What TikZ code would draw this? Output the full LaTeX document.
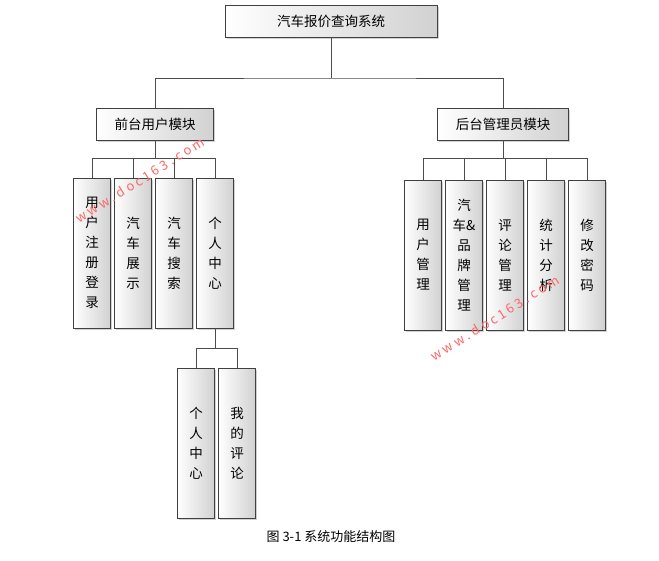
\documentclass[tikz,border=0pt]{standalone}
\usepackage{fontspec}
\setmainfont{Noto Sans CJK SC}
\usetikzlibrary{shadows}
\tikzset{
  modbox/.style={draw=black!75, left color=white, right color=black!18, drop shadow={shadow xshift=1.5pt,shadow yshift=-1.5pt,fill=black!35},
    font=\fontsize{13.5}{15}\selectfont, inner sep=0pt},
  colbox/.style={modbox, minimum width=37pt, minimum height=150pt, align=center,
    font=\fontsize{13.5}{20}\selectfont},
  link/.style={draw=black!70, line width=0.6pt}
}
\begin{document}
\begin{tikzpicture}[x=1pt,y=-1pt]
  \useasboundingbox[fill=white] (0,0) rectangle (659,560);

  % Ebene 1 und 2
  \node[modbox, minimum width=212pt, minimum height=32pt] (sys) at (331,21) {汽车报价查询系统};
  \node[modbox, minimum width=117pt, minimum height=32pt] (front) at (155,124) {前台用户模块};
  \node[modbox, minimum width=131pt, minimum height=32pt] (back) at (503,124) {后台管理员模块};

  % Vorderseite
  \node[colbox] (reg) at (92,253) {用\\户\\注\\册\\登\\录};
  \node[colbox] (show) at (133,253) {汽\\车\\展\\示};
  \node[colbox] (search) at (174,253) {汽\\车\\搜\\索};
  \node[colbox] (center) at (215,253) {个\\人\\中\\心};
  \node[colbox] (mycenter) at (196,443) {个\\人\\中\\心};
  \node[colbox] (mycomment) at (237,443) {我\\的\\评\\论};

  % Rückseite
  \node[colbox] (user) at (423,255) {用\\户\\管\\理};
  \node[colbox] (brand) at (464,255) {汽\\车\&\\品\\牌\\管\\理};
  \node[colbox] (comment) at (505,255) {评\\论\\管\\理};
  \node[colbox] (stat) at (546,255) {统\\计\\分\\析};
  \node[colbox] (pwd) at (587,255) {修\\改\\密\\码};

  % Verbindungen
  \coordinate (b1) at (331,78);
  \coordinate (b2) at (155,158);
  \coordinate (b3) at (503,158);
  \coordinate (b4) at (215,348);
  \draw[link] (sys) -- (b1);
  \draw[link] (front.north) |- (b1) -| (back.north);
  \draw[link] (front) -- (b2);
  \draw[link] (back) -- (b3);
  \foreach \n in {reg,show,search,center} \draw[link] (\n.north) |- (b2);
  \foreach \n in {user,brand,comment,stat,pwd} \draw[link] (\n.north) |- (b3);
  \draw[link] (center) -- (b4);
  \foreach \n in {mycenter,mycomment} \draw[link] (\n.north) |- (b4);

  % Wasserzeichen
  \node[text=red!60, rotate=32, font=\fontsize{13}{13}\selectfont] (wm1) at (140,180) {w w w . d o c 1 6 3 . c o m};
  \node[text=red!60, rotate=32, font=\fontsize{13}{13}\selectfont] (wm2) at (495,318) {w w w . d o c 1 6 3 . c o m};

  \node[font=\fontsize{13}{15}\selectfont] (cap) at (331,537) {图 3-1 系统功能结构图};
\end{tikzpicture}
\end{document}
